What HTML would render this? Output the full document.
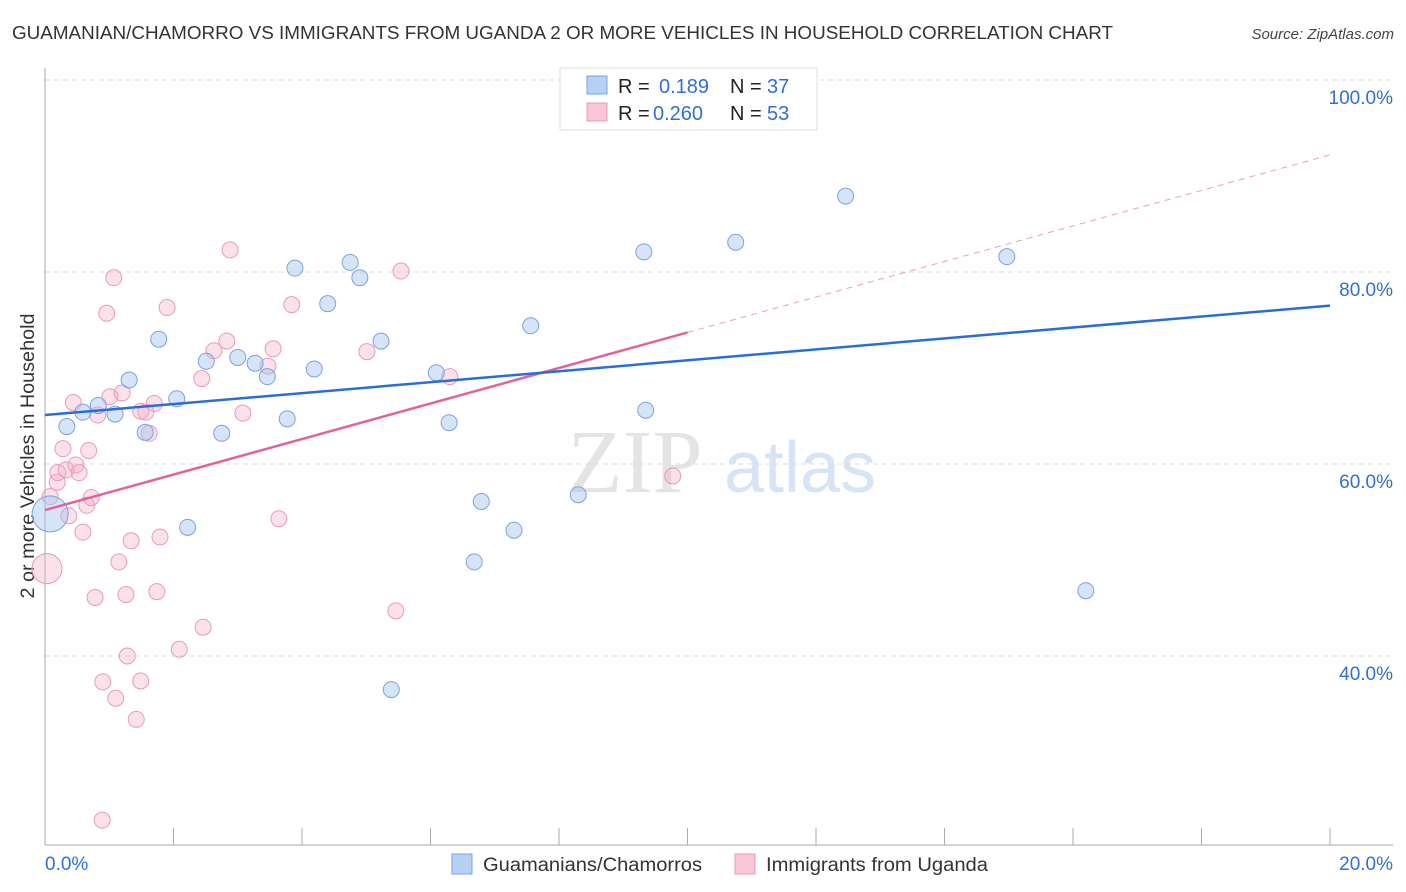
<!DOCTYPE html>
<html><head><meta charset="utf-8">
<style>
body{margin:0;background:#fff;font-family:"Liberation Sans",sans-serif;}
svg{display:block}
</style></head>
<body>
<svg id="chart" width="1406" height="892" xmlns="http://www.w3.org/2000/svg">
<text x="12" y="39" font-size="18" fill="#333" textLength="1101" lengthAdjust="spacingAndGlyphs">GUAMANIAN/CHAMORRO VS IMMIGRANTS FROM UGANDA 2 OR MORE VEHICLES IN HOUSEHOLD CORRELATION CHART</text>
<text x="1394" y="39" font-size="15" font-style="italic" fill="#444" text-anchor="end">Source: ZipAtlas.com</text>
<text transform="translate(34,456) rotate(-90)" font-size="19.5" fill="#333" text-anchor="middle" textLength="285" lengthAdjust="spacingAndGlyphs">2 or more Vehicles in Household</text>
<g>
<text x="635" y="492" font-size="90" font-family="Liberation Serif,serif" fill="#e4e4e4" text-anchor="middle">ZIP</text>
<text x="800" y="492" font-size="72" fill="#d6e4f5" text-anchor="middle">atlas</text>
</g>
<g id="grid"></g>
<g id="axes"></g>
<g id="marks"></g>
<g>
<rect x="560" y="68" width="257" height="62" fill="#fff" stroke="#ddd"/>
<rect x="587" y="76" width="20" height="18" fill="#b7d0f3" stroke="#7aa3e0"/>
<rect x="587" y="103" width="20" height="18" fill="#f9c6d6" stroke="#eb9ab8"/>
<text x="618" y="93" font-size="20" fill="#222">R = </text><text x="659" y="93" font-size="20" fill="#2f6fd6">0.189</text>
<text x="730" y="93" font-size="20" fill="#222">N = </text><text x="767" y="93" font-size="20" fill="#2f6fd6">37</text>
<text x="618" y="120" font-size="20" fill="#222">R = </text><text x="653" y="120" font-size="20" fill="#2f6fd6">0.260</text>
<text x="730" y="120" font-size="20" fill="#222">N = </text><text x="767" y="120" font-size="20" fill="#2f6fd6">53</text>
</g>
<g>
<rect x="452" y="854" width="20" height="20" fill="#b7d0f3" stroke="#7aa3e0"/>
<text x="483" y="871" font-size="19" fill="#333" textLength="219" lengthAdjust="spacingAndGlyphs">Guamanians/Chamorros</text>
<rect x="735" y="854" width="20" height="20" fill="#f9c6d6" stroke="#eb9ab8"/>
<text x="766" y="871" font-size="19" fill="#333" textLength="222" lengthAdjust="spacingAndGlyphs">Immigrants from Uganda</text>
</g>
</svg>
<script>
const xTicks=[0,2,4,6,8,10,12,14,16,18,20];
const yTicks=[100,80,60,40];
const yTickLabels=["100.0%","80.0%","60.0%","40.0%"];
const blueX=[0.34,0.59,0.83,1.09,1.31,1.56,1.77,2.05,2.22,2.51,2.75,3.00,3.27,3.46,3.77,3.89,4.19,4.40,4.75,4.90,5.23,5.39,6.09,6.29,6.68,6.79,7.30,7.56,8.30,9.32,9.35,10.75,12.46,14.97,16.20,9.73,0.08];
const blueY=[63.9,65.4,66.1,65.2,68.75,63.3,73.0,66.8,53.4,70.7,63.2,71.1,70.5,69.1,64.7,80.4,69.9,76.7,81.0,79.4,72.8,36.5,69.5,64.3,49.8,56.1,53.1,74.4,56.8,82.1,65.6,83.1,87.9,81.6,46.8,97.6,54.8];
const pinkX=[0.08,0.19,0.2,0.03,0.28,0.33,0.37,0.44,0.48,0.53,0.59,0.65,0.68,0.72,0.78,0.82,0.9,0.96,1.01,1.07,1.1,1.15,1.2,1.26,1.28,1.34,1.42,1.49,1.49,1.57,1.62,1.70,1.74,1.79,1.90,2.09,2.44,2.46,2.63,2.83,2.88,3.08,3.47,3.55,3.64,3.84,5.01,5.46,5.54,6.30,9.77,0.89];
const pinkY=[56.6,58.1,59.1,49.1,61.6,59.4,54.6,66.4,59.9,59.1,52.9,55.7,61.4,56.5,46.1,65.1,37.3,75.7,67.0,79.4,35.6,49.8,67.4,46.4,40.0,52.0,33.4,37.4,65.5,65.4,63.2,66.3,46.7,52.4,76.3,40.7,68.9,43.0,71.8,72.8,82.3,65.3,70.2,72.0,54.3,76.6,71.7,44.7,80.1,69.1,58.75,22.9];
const blueTrend=[65.1,76.5];
const pinkTrend=[55.2,92.2];
const pinkSolidEnd=10;

const NS="http://www.w3.org/2000/svg";
const X=v=>45+v/20*1285;
const Y=v=>80+(100-v)*9.6;
function mk(tag,attrs,parent){const e=document.createElementNS(NS,tag);for(const k in attrs)e.setAttribute(k,attrs[k]);parent.appendChild(e);return e;}
const grid=document.getElementById('grid'),axes=document.getElementById('axes'),marks=document.getElementById('marks');
yTicks.forEach((t,i)=>{
  const l=mk('line',{x1:45,x2:1393,y1:Y(t),y2:Y(t),stroke:'#ddd','stroke-dasharray':'5,4'},grid);
  
  
  const tx=mk('text',{x:1393,y:Y(t)+24,'font-size':19,fill:'#2f6fd6','text-anchor':'end'},axes);
  tx.textContent=yTickLabels[i];
  
  
});
const xa=mk('line',{x1:45,x2:1393,y1:845,y2:845,stroke:'#aaa'},axes);


const ya=mk('line',{x1:45,x2:45,y1:68,y2:845,stroke:'#aaa'},axes);


xTicks.forEach(t=>{
  const l=mk('line',{x1:X(t),x2:X(t),y1:828,y2:845,stroke:'#aaa'},axes);
  
  
});
const x0=mk('text',{x:45,y:870,'font-size':19,fill:'#2f6fd6'},axes);x0.textContent='0.0%';


const x1=mk('text',{x:1393,y:870,'font-size':19,fill:'#2f6fd6','text-anchor':'end'},axes);x1.textContent='20.0%';



pinkX.forEach((v,i)=>{
  const r=(i===3)?15:8;
  const c=mk('circle',{cx:X(v),cy:Y(pinkY[i]),r:r,fill:'rgba(244,170,196,0.35)',stroke:'#eb9ab8','stroke-width':1},marks);
  
  
});
blueX.forEach((v,i)=>{
  const r=(i===blueX.length-1)?18:8;
  const c=mk('circle',{cx:X(v),cy:Y(blueY[i]),r:r,fill:'rgba(164,196,240,0.45)',stroke:'#7aa3e0','stroke-width':1},marks);
  
  
});
const pm=pinkTrend[0]+(pinkTrend[1]-pinkTrend[0])*pinkSolidEnd/20;
const pd=mk('line',{x1:X(pinkSolidEnd),y1:Y(pm),x2:X(20),y2:Y(pinkTrend[1]),stroke:'#e8a0bc','stroke-width':1,'stroke-dasharray':'6,5'},marks);


const ps=mk('line',{x1:X(0),y1:Y(pinkTrend[0]),x2:X(pinkSolidEnd),y2:Y(pm),stroke:'#e0649a','stroke-width':2.5},marks);


const bl=mk('line',{x1:X(0),y1:Y(blueTrend[0]),x2:X(20),y2:Y(blueTrend[1]),stroke:'#2a6dd8','stroke-width':2.5},marks);


</script>
</body></html>
